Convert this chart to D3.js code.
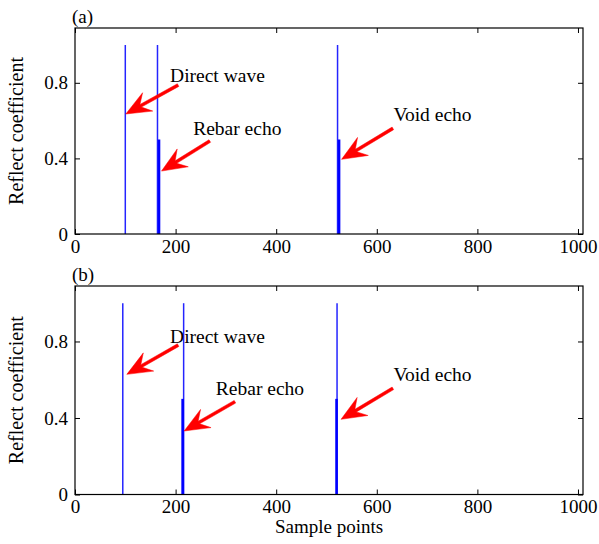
<!DOCTYPE html>
<html>
<head>
<meta charset="utf-8">
<script src="https://cdn.jsdelivr.net/npm/d3@7"></script>
<style>
  html, body { margin: 0; padding: 0; background: #fff; }
  svg { display: block; }
  text { font-family: "Liberation Serif", "Times New Roman", serif; fill: #000; }
</style>
</head>
<body>
<svg id="chart" width="599" height="544"></svg>
<script>
// ---------- data ----------
const xTicks = [0, 200, 400, 600, 800, 1000];
const yTicks = [0, 0.4, 0.8];
const yTickLabels = ["0", "0.4", "0.8"];
const panelLabels = ["(a)", "(b)"];

// thin stems (value 1) and thick stems (echo, value 0.5) per panel
const stemPosA = [100, 164, 522];
const stemValA = [1, 1, 1];
const echoPosA = [167, 525];
const echoValA = [0.5, 0.5];

const stemPosB = [95, 216, 521];
const stemValB = [1, 1, 1];
const echoPosB = [214, 520];
const echoValB = [0.5, 0.5];

// annotations (data coordinates): label anchor, arrow tail, arrow tip
const annTexts = ["Direct wave", "Rebar echo", "Void echo"];
const annA = [
  { lx: 189, ly: 0.805, tx: 205, ty: 0.788, hx: 101, hy: 0.635 },
  { lx: 235, ly: 0.522, tx: 268, ty: 0.492, hx: 172, hy: 0.333 },
  { lx: 633, ly: 0.600, tx: 632, ty: 0.559, hx: 530, hy: 0.395 }
];
const annB = [
  { lx: 189, ly: 0.790, tx: 205, ty: 0.781, hx: 103, hy: 0.628 },
  { lx: 280, ly: 0.520, tx: 318, ty: 0.485, hx: 217, hy: 0.332 },
  { lx: 633, ly: 0.595, tx: 632, ty: 0.555, hx: 529, hy: 0.393 }
];

// ---------- layout ----------
const svg = d3.select("#chart");
const left = 75, right = 583;
const xDomainMax = 1010, yDomainMax = 1.09;
const panelsLayout = [
  { top: 28, bottom: 234, stemPos: stemPosA, stemVal: stemValA, echoPos: echoPosA, echoVal: echoValA, ann: annA },
  { top: 286, bottom: 494.5, stemPos: stemPosB, stemVal: stemValB, echoPos: echoPosB, echoVal: echoValB, ann: annB }
];
const fontSize = 19;
const x = d3.scaleLinear().domain([0, xDomainMax]).range([left, right]);

function arrowPath(x1, y1, x2, y2) {
  const dx = x2 - x1, dy = y2 - y1;
  const L = Math.hypot(dx, dy);
  const ux = dx / L, uy = dy / L;
  const nx = -uy, ny = ux;
  const headLen = 25, headHalf = 10.5, notch = 17, sw = 1.5;
  const bx = x2 - ux * headLen, by = y2 - uy * headLen;
  const kx = x2 - ux * notch, ky = y2 - uy * notch;
  const pts = [
    [x1 + nx * sw, y1 + ny * sw],
    [kx + nx * sw, ky + ny * sw],
    [bx + nx * headHalf, by + ny * headHalf],
    [x2, y2],
    [bx - nx * headHalf, by - ny * headHalf],
    [kx - nx * sw, ky - ny * sw],
    [x1 - nx * sw, y1 - ny * sw]
  ];
  return "M" + pts.map(p => p.join(",")).join("L") + "Z";
}

panelsLayout.forEach((p, i) => {
  const y = d3.scaleLinear().domain([0, yDomainMax]).range([p.bottom, p.top]);
  const g = svg.append("g");

  // stems
  g.selectAll(".thin").data(p.stemPos).enter().append("line")
    .attr("x1", d => x(d)).attr("x2", d => x(d))
    .attr("y1", y(0)).attr("y2", (d, j) => y(p.stemVal[j]))
    .attr("stroke", "#2424ff").attr("stroke-width", 1.5);
  g.selectAll(".thick").data(p.echoPos).enter().append("line")
    .attr("x1", d => x(d)).attr("x2", d => x(d))
    .attr("y1", y(0)).attr("y2", (d, j) => y(p.echoVal[j]))
    .attr("stroke", "#0000ff").attr("stroke-width", 2.6);

  // axes
  const tickLen = 5;
  const axB = d3.axisBottom(x).tickValues(xTicks).tickSizeInner(-tickLen).tickSizeOuter(0).tickFormat(d3.format("d"));
  const axT = d3.axisTop(x).tickValues(xTicks).tickSizeInner(-tickLen).tickSizeOuter(0).tickFormat("");
  const axL = d3.axisLeft(y).tickValues(yTicks).tickSizeInner(-tickLen).tickSizeOuter(0).tickFormat((d, j) => yTickLabels[j]);
  const axR = d3.axisRight(y).tickValues(yTicks).tickSizeInner(-tickLen).tickSizeOuter(0).tickFormat("");

  const gb = g.append("g").attr("transform", `translate(0,${p.bottom})`).call(axB);
  const gt = g.append("g").attr("transform", `translate(0,${p.top})`).call(axT);
  const gl = g.append("g").attr("transform", `translate(${left},0)`).call(axL);
  const gr = g.append("g").attr("transform", `translate(${right},0)`).call(axR);
  [gb, gt, gl, gr].forEach(a => {
    a.select(".domain").remove();
    a.selectAll("line").attr("stroke", "#000").attr("stroke-width", 1);
    a.selectAll("text").style("font-family", "'Liberation Serif', serif").style("font-size", fontSize + "px").attr("fill", "#000");
  });
  gb.selectAll("text").attr("dy", null).attr("y", 18.5);
  gl.selectAll("text").attr("x", -7);

  // box
  g.append("rect").attr("x", left).attr("y", p.top)
    .attr("width", right - left).attr("height", p.bottom - p.top)
    .attr("fill", "none").attr("stroke", "#000").attr("stroke-width", 1.2);

  // panel label
  g.append("text").attr("x", left - 3).attr("y", p.top - 5)
    .style("font-size", fontSize + "px").text(panelLabels[i]);

  // y label
  g.append("text")
    .attr("transform", `translate(23,${(p.top + p.bottom) / 2}) rotate(-90)`)
    .attr("text-anchor", "middle")
    .style("font-size", "20px")
    .text("Reflect coefficient");

  // annotations
  p.ann.forEach((a, j) => {
    g.append("path")
      .attr("d", arrowPath(x(a.tx), y(a.ty), x(a.hx), y(a.hy)))
      .attr("fill", "#ff0000").attr("stroke", "#ff0000").attr("stroke-width", 0.5)
      .attr("stroke-linejoin", "round");
    g.append("text").attr("x", x(a.lx)).attr("y", y(a.ly))
      .style("font-size", "19.5px").text(annTexts[j]);
  });
});

// x label
svg.append("text")
  .attr("x", (left + right) / 2).attr("y", 533)
  .attr("text-anchor", "middle")
  .style("font-size", fontSize + "px")
  .text("Sample points");
</script>
</body>
</html>
